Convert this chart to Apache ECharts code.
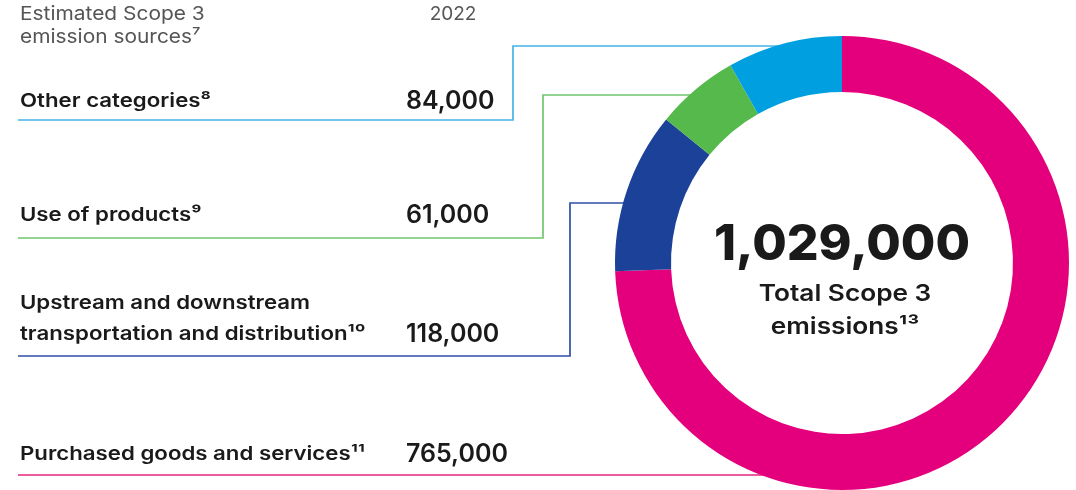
<!DOCTYPE html>
<html><head><meta charset="utf-8">
<script src="https://cdn.jsdelivr.net/npm/echarts@6/dist/echarts.min.js"></script>
<style>html,body{margin:0;padding:0;background:#fff}#c{width:1076px;height:490px}</style>
</head><body><div id="c"></div>
<script>
// ---- data ----
const categories = ['Purchased goods and services¹¹', 'Upstream and downstream\ntransportation and distribution¹⁰', 'Use of products⁹', 'Other categories⁸'];
const values = [765000, 118000, 61000, 84000];
const totalValue = '1,029,000';
const totalLabel = ['Total Scope 3', 'emissions¹³'];
const headerLabel = ['Estimated Scope 3', 'emission sources⁷'];
const yearLabel = '2022';

// ---- styling / layout ----
const sliceColors = ['#e4007c', '#1c4199', '#56b94b', '#009fdf'];
const lineColors = ['#e6247d', '#2f4fa6', '#72c66f', '#45b4e5'];
const cx = 842, cy = 263, rIn = 171, rOut = 227;
const rowLineY = [475, 356, 238, 120];
const rowTextY = [454, 334, 215, 101];
const elbowX = [null, 570, 543, 513];
const elbowY = [null, 203, 95, 46];
const FONT = 'Inter, "Noto Sans", sans-serif';
const ink = '#1a1a1a';

const graphics = [];
const rMid = (rIn + rOut) / 2;
function ringX(y) { const dy = cy - y; return cx - Math.sqrt(Math.max(0, rMid * rMid - dy * dy)); }
function txt(x, y, t, font, align, sx, fill) {
  graphics.push({ type: 'text', z: 10, silent: true, x: x, y: y, scaleX: sx, scaleY: 1,
    style: { x: 0, y: 0, text: t, font: font, fill: fill || ink, textAlign: align, textVerticalAlign: 'middle' } });
}

categories.forEach((name, i) => {
  const pts = [[18, rowLineY[i]]];
  if (elbowX[i] !== null) {
    pts.push([elbowX[i], rowLineY[i]]);
    pts.push([elbowX[i], elbowY[i]]);
    pts.push([ringX(elbowY[i]), elbowY[i]]);
  } else {
    pts.push([ringX(rowLineY[i]), rowLineY[i]]);
  }
  graphics.push({ type: 'polyline', z: 0, silent: true, shape: { points: pts },
    style: { stroke: lineColors[i], lineWidth: 1.7, fill: null } });
  const lines = name.split('\n');
  lines.forEach((ln, j) => {
    txt(20, rowTextY[i] - 31 * (lines.length - 1 - j), ln, '600 19px ' + FONT, 'left', 1.17);
  });
  txt(406, rowTextY[i], values[i].toLocaleString('en-US'), '600 25px ' + FONT, 'left', 1);
});

headerLabel.forEach((t, j) => txt(20, 14 + 23 * j, t, '400 19px ' + FONT, 'left', 1.1, '#555555'));
txt(453, 14, yearLabel, '400 19px ' + FONT, 'center', 1, '#555555');

txt(cx, 245, totalValue, '800 50px ' + FONT, 'center', 1);
totalLabel.forEach((t, j) => txt(cx + 3, 294 + 33 * j, t, '600 23px ' + FONT, 'center', 1.14));

const chart = echarts.init(document.getElementById('c'), null, { renderer: 'canvas' });
chart.setOption({
  animation: false,
  graphic: graphics,
  series: [{
    type: 'pie', z: 2, silent: true,
    center: [cx, cy], radius: [rIn, rOut], startAngle: 90, clockwise: true,
    label: { show: false }, labelLine: { show: false },
    emphasis: { disabled: true },
    itemStyle: { borderWidth: 0 },
    data: values.map((v, i) => ({ name: categories[i], value: v, itemStyle: { color: sliceColors[i] } }))
  }]
});
</script></body></html>
